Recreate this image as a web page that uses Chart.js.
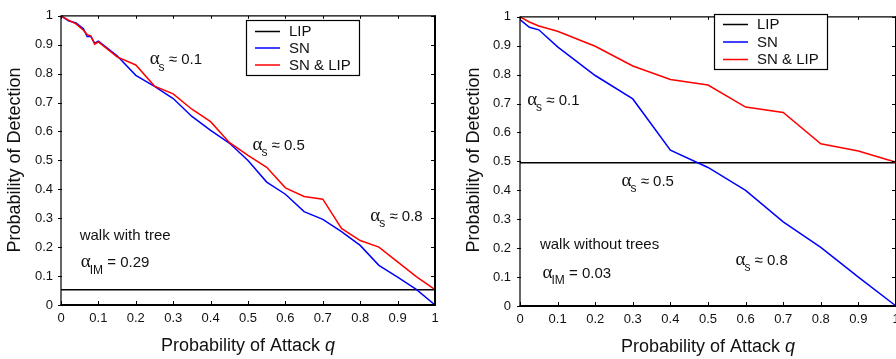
<!DOCTYPE html>
<html><head><meta charset="utf-8">
<script src="https://cdn.jsdelivr.net/npm/chart.js@4"></script>
<style>
html,body{margin:0;padding:0;background:#fff;overflow:hidden;width:896px;height:359px;}
canvas{position:absolute;top:0;}
</style></head><body>
<canvas id="cL" width="448" height="359" style="left:0"></canvas>
<canvas id="cR" width="461" height="359" style="left:448px"></canvas>
<script>
// ---------- data ----------
const seriesNames = ['LIP', 'SN', 'SN & LIP'];
const xTickLabels = ['0','0.1','0.2','0.3','0.4','0.5','0.6','0.7','0.8','0.9','1'];
const yTickLabels = ['0','0.1','0.2','0.3','0.4','0.5','0.6','0.7','0.8','0.9','1'];
const xTitleText = 'Probability of Attack ';
const xTitleVar = 'q';
const yTitleText = 'Probability of Detection';

// left panel: walk with tree
const leftQ      = [0,0.02,0.04,0.06,0.07,0.08,0.09,0.1,0.15,0.2,0.25,0.3,0.35,0.4,0.45,0.5,0.55,0.6,0.65,0.7,0.75,0.8,0.85,0.9,0.95,1];
const leftSN     = [1,0.983,0.975,0.955,0.928,0.928,0.905,0.912,0.862,0.794,0.756,0.714,0.652,0.604,0.56,0.5,0.425,0.383,0.323,0.296,0.254,0.206,0.137,0.096,0.054,0];
const leftSNLIP  = [1,0.985,0.972,0.95,0.935,0.93,0.902,0.91,0.858,0.83,0.757,0.73,0.677,0.634,0.562,0.517,0.476,0.405,0.375,0.366,0.265,0.223,0.2,0.149,0.098,0.053];
const leftLIPQ   = [0,1];
const leftLIP    = [0.053,0.053];

// right panel: walk without trees
const rightQ     = [0,0.025,0.05,0.1,0.2,0.3,0.4,0.5,0.6,0.7,0.8,0.9,1];
const rightSN    = [0.99,0.964,0.955,0.896,0.797,0.716,0.539,0.479,0.4,0.291,0.203,0.1,0];
const rightSNLIP = [1,0.982,0.968,0.95,0.898,0.83,0.783,0.764,0.688,0.669,0.561,0.536,0.497];
const rightLIPQ  = [0,1];
const rightLIP   = [0.495,0.495];

// annotation texts (anchored in data coordinates)
const leftNotes = [
  {q:0.237, p:0.832, greek:'α', sub:'s',  text:' ≈ 0.1'},
  {q:0.512, p:0.537, greek:'α', sub:'s',  text:' ≈ 0.5'},
  {q:0.827, p:0.291, greek:'α', sub:'s',  text:' ≈ 0.8'},
  {q:0.05,  p:0.226, text:'walk with tree'},
  {q:0.053, p:0.130, greek:'α', sub:'IM', text:' = 0.29'}
];
const rightNotes = [
  {q:0.019, p:0.695, greek:'α', sub:'s',  text:' ≈ 0.1'},
  {q:0.270, p:0.416, greek:'α', sub:'s',  text:' ≈ 0.5'},
  {q:0.573, p:0.142, greek:'α', sub:'s',  text:' ≈ 0.8'},
  {q:0.053, p:0.197, text:'walk without trees'},
  {q:0.060, p:0.097, greek:'α', sub:'IM', text:' = 0.03'}
];

// ---------- styles ----------
const SANS = '"Liberation Sans", Arial, Helvetica, sans-serif';
const COLORS = ['#000000', '#0000ff', '#ff0000'];
const TXT = '#111111';
Chart.defaults.font.family = SANS;
Chart.defaults.color = TXT;

const pts = (xs, ys) => xs.map((x, i) => ({x: x, y: ys[i]}));

const framePlugin = {
  id: 'frame',
  afterDraw(chart, args, o) {
    const {ctx, chartArea: a, scales: {x, y}} = chart;
    ctx.save();
    // axes box
    ctx.strokeStyle = '#000';
    ctx.lineWidth = 1.2;
    ctx.beginPath();
    ctx.moveTo(a.left, a.bottom); ctx.lineTo(a.left, a.top); ctx.lineTo(a.right, a.top);
    ctx.stroke();
    ctx.lineWidth = 2;
    ctx.beginPath();
    ctx.moveTo(a.left - 0.5, a.bottom); ctx.lineTo(a.right, a.bottom); ctx.lineTo(a.right, a.top - 0.5);
    ctx.stroke();
    // tick marks
    ctx.lineWidth = 1;
    ctx.beginPath();
    x.ticks.forEach(t => {
      const px = Math.round(x.getPixelForValue(t.value)) + 0.5;
      ctx.moveTo(px, a.bottom); ctx.lineTo(px, a.bottom - 4);
      ctx.moveTo(px, a.top); ctx.lineTo(px, a.top + 3);
    });
    y.ticks.forEach(t => {
      const py = Math.round(y.getPixelForValue(t.value)) + 0.5;
      ctx.moveTo(a.left - 3, py); ctx.lineTo(a.left + 1, py);
      ctx.moveTo(a.right, py); ctx.lineTo(a.right - 4, py);
    });
    ctx.stroke();

    // axis titles
    ctx.fillStyle = TXT;
    ctx.textBaseline = 'alphabetic';
    ctx.font = '18px ' + SANS;
    const w1 = ctx.measureText(xTitleText).width;
    ctx.font = 'italic 18px ' + SANS;
    const w2 = ctx.measureText(xTitleVar).width;
    const cx = (a.left + a.right) / 2;
    let sx = cx - (w1 + w2) / 2;
    ctx.textAlign = 'left';
    ctx.font = '18px ' + SANS;
    ctx.fillText(xTitleText, sx, o.xTitleY);
    ctx.font = 'italic 18px ' + SANS;
    ctx.fillText(xTitleVar, sx + w1, o.xTitleY);

    ctx.save();
    ctx.translate(o.yTitleX, o.yTitleY);
    ctx.rotate(-Math.PI / 2);
    ctx.textAlign = 'center';
    ctx.textBaseline = 'middle';
    ctx.font = '18px ' + SANS;
    ctx.fillText(yTitleText, 0, 0);
    ctx.restore();

    // annotations
    ctx.textAlign = 'left';
    ctx.textBaseline = 'alphabetic';
    o.notes.forEach(n => {
      let px = x.getPixelForValue(n.q);
      const py = y.getPixelForValue(n.p);
      if (n.greek) {
        ctx.font = '19px "Liberation Serif", "DejaVu Serif", serif';
        ctx.fillText(n.greek, px, py);
        px += ctx.measureText(n.greek).width - 1;
        ctx.font = '12px ' + SANS;
        ctx.fillText(n.sub, px, py + 6.3);
        px += ctx.measureText(n.sub).width;
      }
      ctx.font = '15px ' + SANS;
      ctx.fillText(n.text, px, py);
    });

    // legend
    const L = o.legend;
    ctx.fillStyle = '#fff';
    ctx.fillRect(L.x0, L.y0, L.x1 - L.x0, L.y1 - L.y0);
    ctx.strokeStyle = '#000';
    ctx.lineWidth = 1.2;
    ctx.strokeRect(L.x0, L.y0, L.x1 - L.x0, L.y1 - L.y0);
    ctx.font = '15px ' + SANS;
    ctx.textBaseline = 'middle';
    chart.data.datasets.forEach((ds, i) => {
      const ry = L.rows[i];
      ctx.strokeStyle = ds.borderColor;
      ctx.lineWidth = 1.5;
      ctx.beginPath();
      ctx.moveTo(L.lx0, ry); ctx.lineTo(L.lx1, ry);
      ctx.stroke();
      ctx.fillStyle = TXT;
      ctx.fillText(ds.label, L.tx, ry + 0.5);
    });
    ctx.restore();
  }
};

function build(id, lip, sn, snlip, lay, notes) {
  const mk = (i, data, order) => ({
    label: seriesNames[i], data: data, borderColor: COLORS[i], backgroundColor: COLORS[i],
    borderWidth: 1.5, pointRadius: 0, tension: 0, fill: false, order: order, clip: 3
  });
  return new Chart(document.getElementById(id), {
    type: 'line',
    data: { datasets: [ mk(0, lip, 2), mk(1, sn, 1), mk(2, snlip, 0) ] },
    options: {
      responsive: false, animation: false, devicePixelRatio: 1,
      layout: { padding: { left: 0, right: lay.padRight, top: lay.padTop, bottom: 0 } },
      plugins: {
        legend: { display: false }, tooltip: { enabled: false },
        frame: { notes: notes, legend: lay.legend, xTitleY: lay.xTitleY, yTitleX: lay.yTitleX, yTitleY: lay.yTitleY }
      },
      scales: {
        x: {
          type: 'linear', min: 0, max: 1,
          grid: { display: false, drawTicks: false }, border: { display: false },
          ticks: { stepSize: 0.1, padding: 6, color: TXT, font: { size: 13 }, maxRotation: 0,
                   callback: (v, i) => xTickLabels[i] },
          afterFit: s => { s.height = lay.xHeight; }
        },
        y: {
          type: 'linear', min: 0, max: 1,
          grid: { display: false, drawTicks: false }, border: { display: false },
          ticks: { stepSize: 0.1, padding: lay.yPad, color: TXT, font: { size: 13 },
                   callback: (v, i) => yTickLabels[i] },
          afterFit: s => { s.width = lay.yWidth; }
        }
      }
    },
    plugins: [framePlugin]
  });
}

build('cL', pts(leftLIPQ, leftLIP), pts(leftQ, leftSN), pts(leftQ, leftSNLIP), {
  yWidth: 61, xHeight: 54, padTop: 10, padRight: 13, yPad: 8,
  xTitleY: 351, yTitleX: 15.5, yTitleY: 160,
  legend: { x0: 246.5, y0: 20.5, x1: 359.5, y1: 75.5, lx0: 255, lx1: 280, tx: 289, rows: [31.5, 48, 65] }
}, leftNotes);

build('cR', pts(rightLIPQ, rightLIP), pts(rightQ, rightSN), pts(rightQ, rightSNLIP), {
  yWidth: 72, xHeight: 53, padTop: 10, padRight: 13, yPad: 9,
  xTitleY: 352, yTitleX: 26, yTitleY: 160,
  legend: { x0: 266.5, y0: 14.5, x1: 379.5, y1: 69.5, lx0: 275, lx1: 300, tx: 309, rows: [24.5, 42, 59.5] }
}, rightNotes);
</script>
</body></html>
